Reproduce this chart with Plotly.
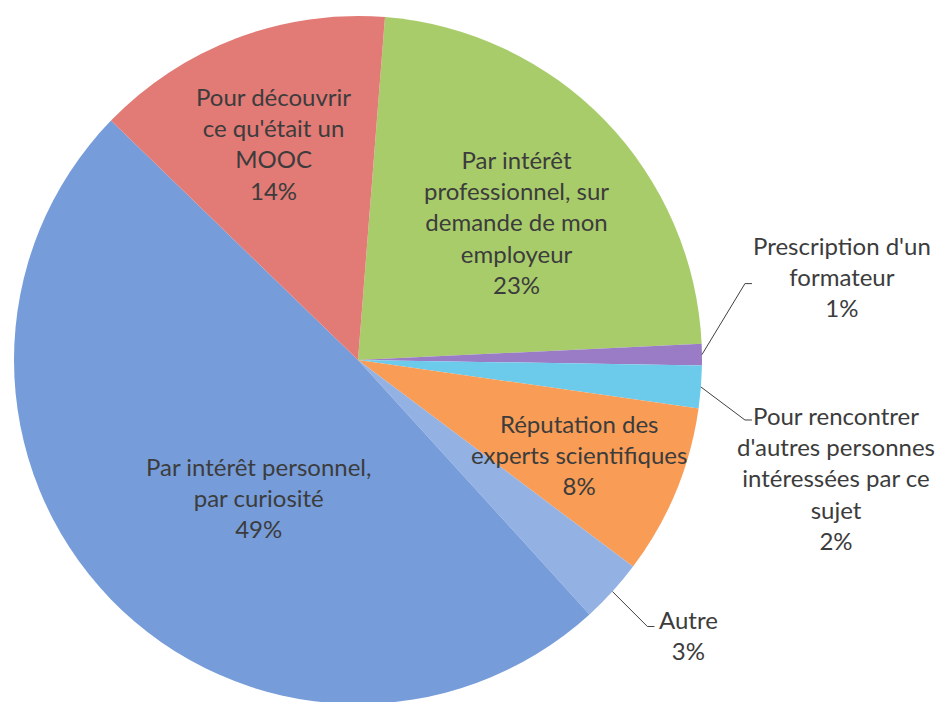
import math
import plotly.graph_objects as go

# ---- data ----
categories = [
    "Par intérêt professionnel, sur demande de mon employeur",
    "Prescription d'un formateur",
    "Pour rencontrer d'autres personnes intéressées par ce sujet",
    "Réputation des experts scientifiques",
    "Autre",
    "Par intérêt personnel, par curiosité",
    "Pour découvrir ce qu'était un MOOC",
]
label_lines = [
    "Par intérêt<br>professionnel, sur<br>demande de mon<br>employeur",
    "Prescription d'un<br>formateur",
    "Pour rencontrer<br>d'autres personnes<br>intéressées par ce<br>sujet",
    "Réputation des<br>experts scientifiques",
    "Autre",
    "Par intérêt personnel,<br>par curiosité",
    "Pour découvrir<br>ce qu'était un<br>MOOC",
]
values = [23, 1, 2, 8, 3, 49, 14]
colors = ["#a9cc6b", "#9a7cc6", "#6ccbea", "#f99c55", "#93b2e3", "#769cda", "#e27a76"]

# ---- layout geometry (figure pixels) ----
W, H = 947, 702
CX, CY, R = 350, 352, 344
dom_x = [(CX - R) / W, (CX + R) / W]
dom_y = [1 - (CY + R) / H, 1 - (CY - R) / H]
rotation = 4.5
FONT = "Lato, 'Open Sans', sans-serif"
TXT = "#3c3c3c"
FS = 24

# label placement: inside -> (radius fraction, angle tweak in deg)
inside_place = {0: (0.61, 3.1), 3: (0.70, 0.6), 5: (0.493, -9.8), 6: (0.676, -0.5)}
# outside -> (elbow offset from slice edge, text offset from leader end)
outside_place = {
    1: ((43, -71), (90, -7)),
    2: ((44, 33), (84, 58)),
    4: ((35, 35), (34, 8)),
}

fig = go.Figure(
    go.Pie(
        labels=categories,
        values=values,
        textinfo="none",
        sort=False,
        direction="clockwise",
        rotation=rotation,
        marker=dict(colors=colors, line=dict(width=0)),
        domain=dict(x=dom_x, y=dom_y),
        showlegend=False,
        hoverinfo="label+percent",
    )
)


def px2paper(x, y):
    return x / W, 1 - y / H


total = sum(values)
annotations, shapes = [], []
cum = 0
for i, v in enumerate(values):
    mid = rotation + 360 * (cum + v / 2) / total
    cum += v
    txt = f"{label_lines[i]}<br>{round(100 * v / total)}%"
    if i in inside_place:
        frac, dth = inside_place[i]
        a = math.radians(mid + dth)
        x = CX + frac * R * math.sin(a)
        y = CY - frac * R * math.cos(a)
        px, py = px2paper(x, y)
        annotations.append(dict(x=px, y=py, xref="paper", yref="paper", text=txt,
                                showarrow=False, xanchor="center", yanchor="middle",
                                font=dict(family=FONT, size=FS, color=TXT), align="center"))
    else:
        (ex, ey), (tx, ty) = outside_place[i]
        a = math.radians(mid)
        x0 = CX + R * math.sin(a)
        y0 = CY - R * math.cos(a)
        x1, y1 = x0 + ex, y0 + ey
        x2, y2 = x1 + 7, y1
        p0, p1, p2 = px2paper(x0, y0), px2paper(x1, y1), px2paper(x2, y2)
        shapes.append(dict(type="path", xref="paper", yref="paper",
                           path=f"M {p0[0]},{p0[1]} L {p1[0]},{p1[1]} L {p2[0]},{p2[1]}",
                           line=dict(color="#404040", width=1)))
        qx, qy = px2paper(x2 + tx, y2 + ty)
        annotations.append(dict(x=qx, y=qy, xref="paper", yref="paper", text=txt,
                                showarrow=False, xanchor="center", yanchor="middle",
                                font=dict(family=FONT, size=FS, color=TXT), align="center"))

fig.update_layout(
    width=W, height=H,
    margin=dict(l=0, r=0, t=0, b=0),
    paper_bgcolor="white",
    plot_bgcolor="white",
    annotations=annotations,
    shapes=shapes,
)

fig.write_html("out.html")
